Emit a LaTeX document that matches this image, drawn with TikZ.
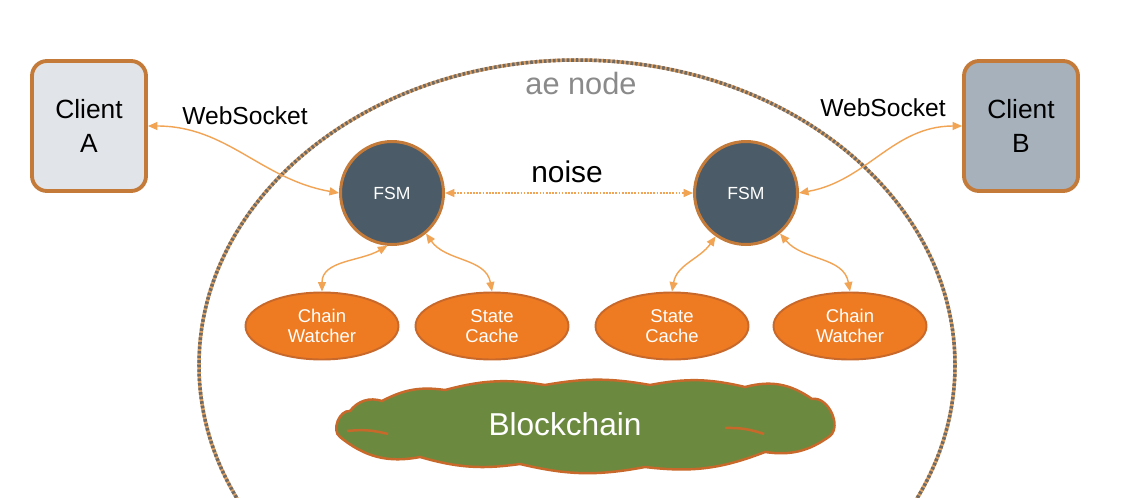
\documentclass[tikz,border=0pt]{standalone}
\usepackage{fontspec}
\setmainfont{Liberation Sans}
\usetikzlibrary{shapes.geometric,arrows.meta}

\definecolor{rim}{HTML}{C47B3A}
\definecolor{clientafill}{HTML}{E1E4E8}
\definecolor{clientbfill}{HTML}{A7B1BB}
\definecolor{fsmfill}{HTML}{4B5B67}
\definecolor{orangefill}{HTML}{EE7B22}
\definecolor{orangerim}{HTML}{C8682A}
\definecolor{greenfill}{HTML}{6C8A3F}
\definecolor{wire}{HTML}{F2A455}
\definecolor{ringgray}{HTML}{6E6A66}
\definecolor{ringorange}{HTML}{E0A060}
\definecolor{labelgray}{HTML}{8A8A8A}

\begin{document}
\begin{tikzpicture}[x=0.2mm,y=-0.2mm]
			\tikzstyle{client}=[draw=rim, line width=2.2pt, rounded corners=3mm, minimum width=22.8mm, minimum height=26mm, align=center, font=\fontsize{15}{19}\selectfont]
			\tikzstyle{fsm}=[circle, draw=rim, line width=1.7pt, fill=fsmfill, minimum size=20.6mm, text=white, font=\fontsize{10}{12}\selectfont]
			\tikzstyle{part}=[ellipse, draw=orangerim, line width=1.1pt, fill=orangefill, minimum width=30.6mm, minimum height=13.4mm, text=white, align=center, font=\fontsize{10.5}{11.5}\selectfont]
			\tikzstyle{link}=[wire, line width=0.8pt, {Triangle[length=1.9mm,width=1.6mm]}-{Triangle[length=1.9mm,width=1.6mm]}]
			\useasboundingbox (0,0) rectangle (1127,497);
			\fill [white] (0,0) rectangle (1127,497);
			\clip (0,0) rectangle (1127,497);
			\draw [ringorange, line width=2pt] (577,365) ellipse (378 and 305);
			\draw [ringgray, line width=2pt, dash pattern=on 1.5pt off 1.1pt] (577,365) ellipse (378 and 305);
			\node [labelgray, font=\fontsize{17.5}{20}\selectfont] (aenode) at (581,84) {ae node};
			\node [client, fill=clientafill] (clientA) at (89,126) {Client\\A};
			\node [client, fill=clientbfill] (clientB) at (1021,126) {Client\\B};
			\node [fsm] (fsmL) at (392,193) {FSM};
			\node [fsm] (fsmR) at (746,193) {FSM};
			\node [part] (watchL) at (322,326) {Chain\\Watcher};
			\node [part] (cacheL) at (492,326) {State\\Cache};
			\node [part] (cacheR) at (672,326) {State\\Cache};
			\node [part] (watchR) at (850,326) {Chain\\Watcher};
			\draw [orangerim, line width=1.4pt, fill=greenfill] (340,437) to [bend left=75] (350,411) to [bend left=35] (382,401) to [bend left=18] (445,390) to [bend left=12] (545,385) to [bend left=10] (650,385) to [bend left=12] (745,387) to [bend left=25] (812,399) to [bend left=75] (830,436) to [bend left=22] (765,452) to [bend left=14] (645,467) to [bend left=12] (520,464) to [bend left=12] (420,457) to [bend left=25] cycle;
			\draw [orangerim, line width=1.4pt] (347,431) to [bend left=10] (388,434);
			\draw [orangerim, line width=1.4pt] (725,428) to [bend left=10] (764,434);
			\node [text=white, font=\fontsize{18}{20}\selectfont] (chain) at (565,424) {Blockchain};
			\draw [link] (clientA.east) to [out=0, in=170] (fsmL.west);
			\draw (245,116) node [font=\fontsize{14}{16}\selectfont] {WebSocket};
			\draw [link] (fsmR.east) to [out=10, in=180] (clientB.west);
			\draw (883,108) node [font=\fontsize{14}{16}\selectfont] {WebSocket};
			\draw [link, dash pattern=on 1pt off 0.8pt] (fsmL.east) -- (fsmR.west);
			\draw (567,172) node [font=\fontsize{17}{20}\selectfont] {noise};
			\draw [link] (fsmL.-95) to [out=210, in=90] (watchL.north);
			\draw [link] (fsmL.-50) to [out=-55, in=100] (cacheL.north);
			\draw [link] (fsmR.-125) to [out=-125, in=80] (cacheR.north);
			\draw [link] (fsmR.-50) to [out=-50, in=100] (watchR.north);
\end{tikzpicture}
\end{document}
